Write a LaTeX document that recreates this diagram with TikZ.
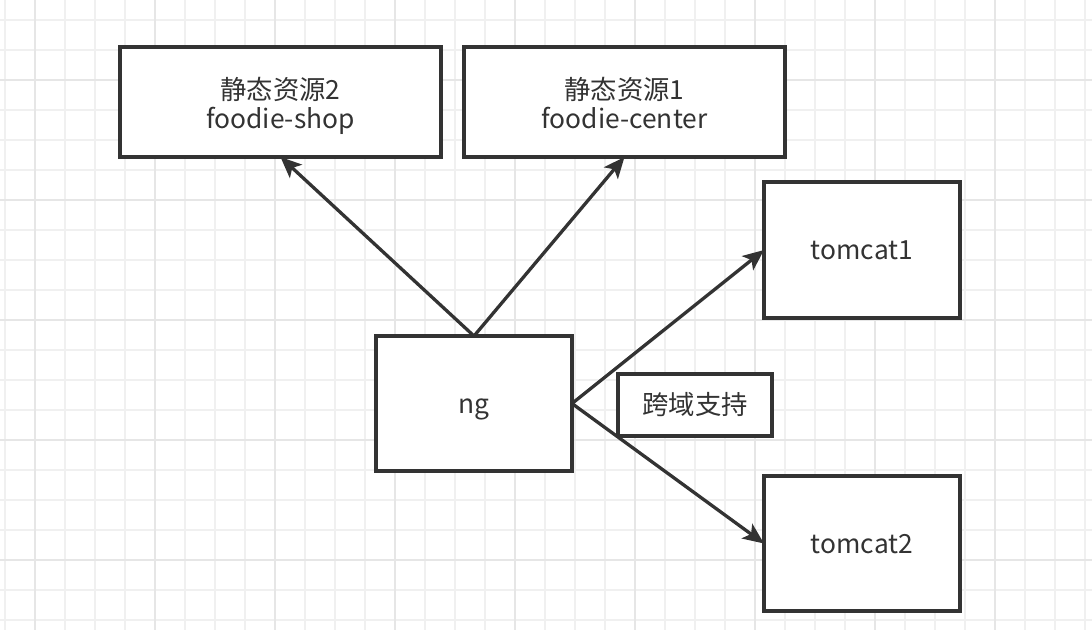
\documentclass[tikz,border=0pt]{standalone}
\usepackage{fontspec}
\setmainfont{Noto Sans CJK SC}
\usetikzlibrary{arrows.meta,positioning}
\definecolor{ink}{HTML}{333333}
\definecolor{gridminor}{HTML}{F0F0F0}
\definecolor{gridmajor}{HTML}{E6E6E6}
\tikzset{
    %Define standard arrow tip
    >={Stealth[length=0.42cm,width=0.36cm,inset=0.1cm]},
    %Define style for boxes
    box/.style={
           rectangle,
           draw=ink, line width=0.08cm,
           fill=white,
           text=ink,
           align=center,
           font=\fontsize{15pt}{17pt}\selectfont,
           inner sep=0pt, outer sep=0pt},
    oneline/.style={text height=11pt, text depth=0pt},
    twoline/.style={text height=30.7pt, text depth=0pt},
    % Define arrow style
    link/.style={
           ->,
           draw=ink,
           line width=0.066cm}
}
\begin{document}
\begin{tikzpicture}
 %background grid
    \useasboundingbox (0,0) rectangle (21.84,-12.6);
    \foreach \x in {0.1,0.7,...,21.8} \draw[gridminor, line width=0.04cm] (\x,0) -- (\x,-12.6);
    \foreach \y in {-0.4,-1.0,...,-12.6} \draw[gridminor, line width=0.04cm] (0,\y) -- (21.84,\y);
    \foreach \x in {0.7,3.1,...,21.8} \draw[gridmajor, line width=0.04cm] (\x,0) -- (\x,-12.6);
    \foreach \y in {-1.6,-4.0,...,-12.6} \draw[gridmajor, line width=0.04cm] (0,\y) -- (21.84,\y);
 %nodes
    \node[box, oneline, minimum width=3.92cm, minimum height=2.7cm] (ng) at (9.48,-8.07) {ng};
    \node[box, oneline, minimum width=3.08cm, minimum height=1.24cm, right=0.92cm of ng, yshift=-0.03cm] (cors) {跨域支持};
    \node[box, oneline, minimum width=3.92cm, minimum height=2.72cm, above right=0.36cm and 3.84cm of ng.north east, anchor=south west] (tc1) {tomcat1};
    \node[box, oneline, minimum width=3.92cm, minimum height=2.7cm, below right=0.1cm and 3.84cm of ng.south east, anchor=north west] (tc2) {tomcat2};
    \node[box, twoline, minimum width=6.42cm, minimum height=2.2cm, above=3.58cm of ng, xshift=3.01cm] (res1) {静态资源1\\foodie-center};
    \node[box, twoline, minimum width=6.42cm, minimum height=2.2cm, left=0.46cm of res1] (res2) {静态资源2\\foodie-shop};
 %edges
    \draw[link] (ng.north) -- (res2.south);
    \draw[link] (ng.north) -- (res1.south);
    \draw[link] (ng.east) -- (tc1.west);
    \draw[link] (ng.east) -- (tc2.west);
\end{tikzpicture}
\end{document}
